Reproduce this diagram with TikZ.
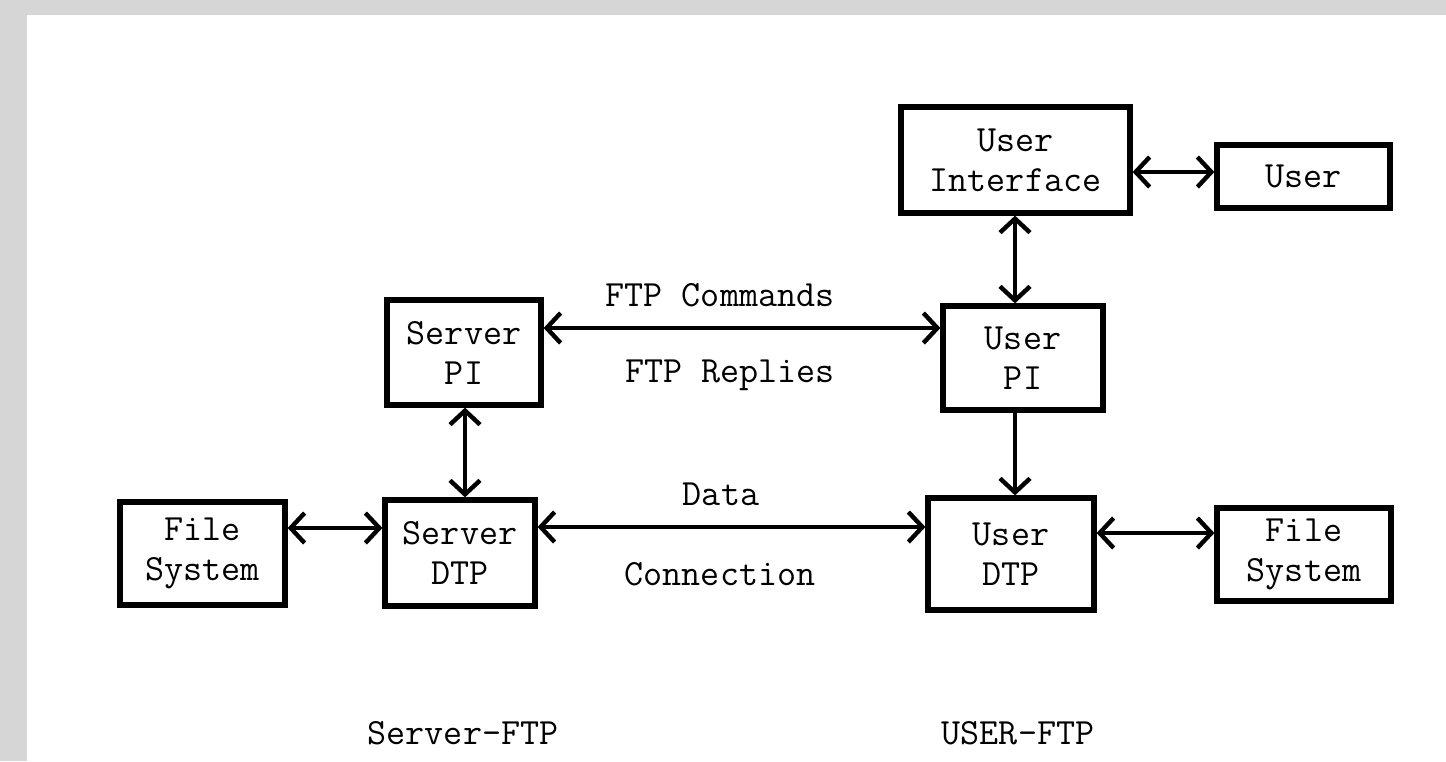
\documentclass[tikz,border=0pt]{standalone}
\usepackage{fontspec}
\usetikzlibrary{arrows.meta}
\definecolor{bggray}{HTML}{D6D6D6}
\begin{document}
\begin{tikzpicture}[x=0.5pt,y=-0.5pt,
  box/.style={draw=black, line width=2.6pt, rectangle, inner sep=0pt, align=center,
    font=\ttfamily\fontsize{18.5pt}{20pt}\selectfont, text=black},
  lbl/.style={inner sep=0pt, font=\ttfamily\fontsize{18.5pt}{20pt}\selectfont},
  arr/.style={line width=2.2pt, {Straight Barb[length=7pt,width=15pt]}-{Straight Barb[length=7pt,width=15pt]}},
  arro/.style={line width=2.2pt, -{Straight Barb[length=7pt,width=15pt]}}]
\fill[bggray] (0,0) rectangle (1446,761);
\fill[white] (27,15) rectangle (1446,761);
\useasboundingbox (0,0) rectangle (1446,761);

\node[box, minimum width=114.5pt, minimum height=53pt] (ui) at (1015.5,160) {User\\Interface};
\node[box, minimum width=86.5pt, minimum height=31.5pt] (user) at (1303.5,176.5) {User};
\node[box, minimum width=77pt, minimum height=52.5pt] (spi) at (464,352.5) {Server\\PI};
\node[box, minimum width=80pt, minimum height=52pt] (upi) at (1023,358) {User\\PI};
\node[box, minimum width=75pt, minimum height=53pt] (sdtp) at (460,553) {Server\\DTP};
\node[box, minimum width=83pt, minimum height=56pt] (udtp) at (1011,554) {User\\DTP};
\node[box, minimum width=82.5pt, minimum height=51.5pt] (fsl) at (202.5,553.5) {File\\System};
\node[box, minimum width=87pt, minimum height=46.5pt] (fsr) at (1304,554.5) {File\\System};

\node[lbl] (l1) at (720,295) {FTP Commands};
\node[lbl] (l2) at (730,375) {FTP Replies};
\node[lbl] (l3) at (721,494) {Data};
\node[lbl] (l4) at (720,574) {Connection};
\node[lbl] (l5) at (463,733) {Server-FTP};
\node[lbl] (l6) at (1018,733) {USER-FTP};

\coordinate (yUI) at (0,172);
\coordinate (yCmd) at (0,328);
\coordinate (yData) at (0,527);
\coordinate (yFSL) at (0,528);
\coordinate (yFSR) at (0,533);
\coordinate (xU) at (1015,0);
\coordinate (xS) at (465,0);

\draw[arr] (ui.east |- yUI) -- (user.west |- yUI);
\draw[arr] (ui.south -| xU) -- (upi.north -| xU);
\draw[arro] (upi.south -| xU) -- (udtp.north -| xU);
\draw[arr] (spi.east |- yCmd) -- (upi.west |- yCmd);
\draw[arr] (spi.south -| xS) -- (sdtp.north -| xS);
\draw[arr] (sdtp.east |- yData) -- (udtp.west |- yData);
\draw[arr] (fsl.east |- yFSL) -- (sdtp.west |- yFSL);
\draw[arr] (udtp.east |- yFSR) -- (fsr.west |- yFSR);
\end{tikzpicture}
\end{document}
